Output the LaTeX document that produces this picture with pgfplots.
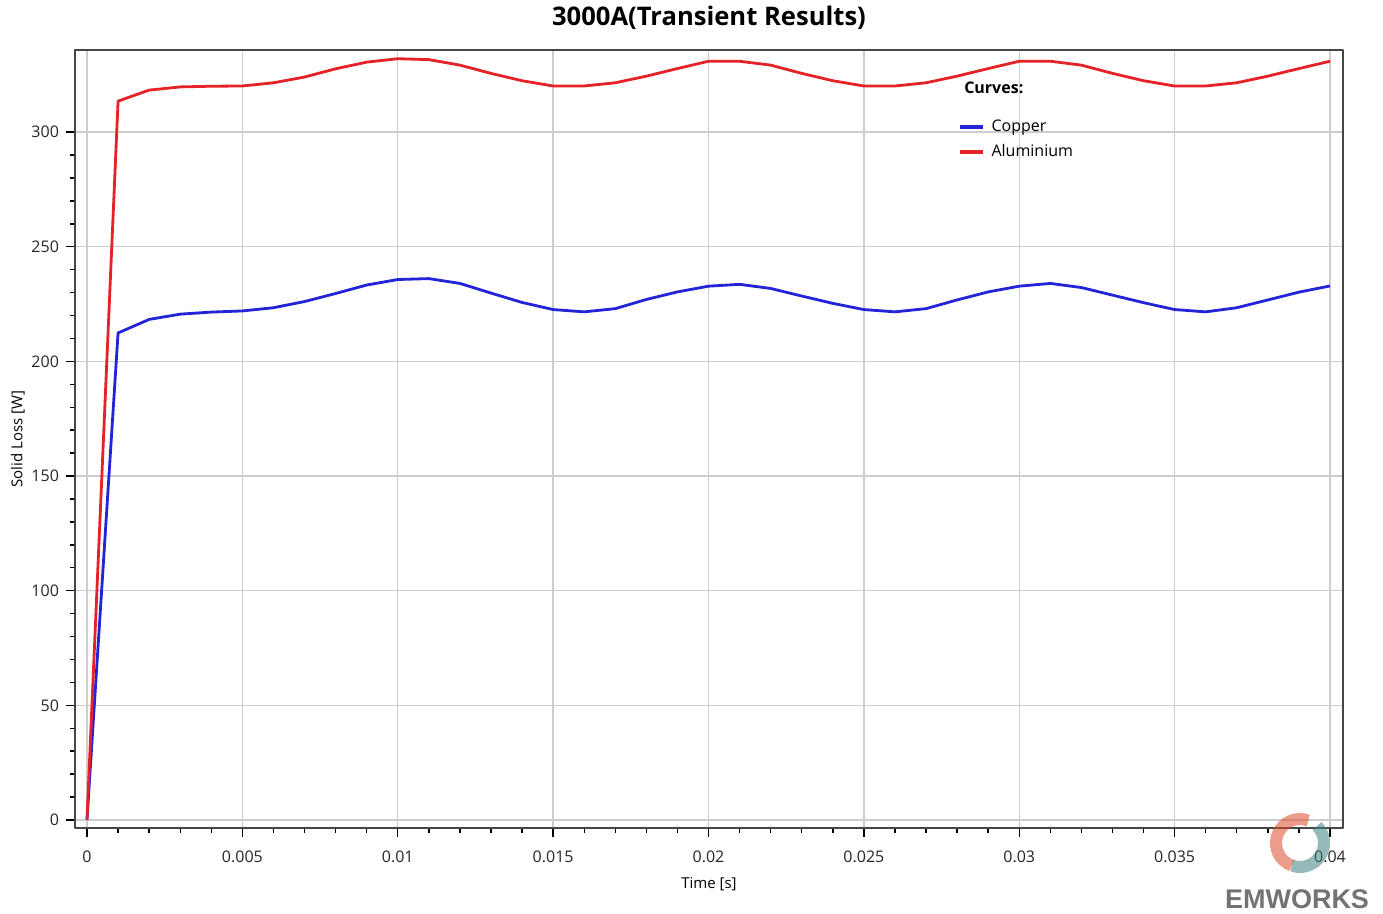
\documentclass[border=0pt]{standalone}
\usepackage{fontspec}
\setmainfont{Open Sans}
\newfontfamily\wmfont{Liberation Sans}
\usepackage{pgfplots}
\pgfplotsset{compat=1.18}
\definecolor{cublue}{RGB}{35,35,215}
\definecolor{alred}{RGB}{228,34,40}
\definecolor{gridgray}{RGB}{205,205,205}
\definecolor{framegray}{RGB}{70,70,70}
\begin{document}
\begin{tikzpicture}
\begin{axis}[
  scale only axis,
  width=634pt, height=389pt,
  xmin=-0.000386, xmax=0.040418,
  ymin=-3.5, ymax=335.8,
  xtick={0,0.005,0.01,0.015,0.02,0.025,0.03,0.035,0.04},
  xticklabels={0,0.005,0.01,0.015,0.02,0.025,0.03,0.035,0.04},
  scaled x ticks=false,
  ytick={0,50,100,150,200,250,300},
  yticklabels={0,50,100,150,200,250,300},
  minor x tick num=4,
  minor y tick num=4,
  tick pos=left,
  tick align=outside,
  major tick length=4.5pt,
  minor tick length=2.5pt,
  every tick/.style={black, line width=0.7pt},
  xmajorgrids, ymajorgrids,
  grid style={gridgray, line width=0.7pt},
  axis line style={framegray, line width=1pt},
  ticklabel style={font=\fontsize{8}{10}\selectfont, text=black!85},
  xticklabel style={yshift=-3.5pt},
  xlabel={Time [s]},
  ylabel={Solid Loss [W]},
  label style={font=\fontsize{7.5}{9}\selectfont},
  xlabel style={yshift=-0.5pt},
  ylabel style={yshift=-3.5pt},
  legend style={draw=none, fill=none, at={(0.696,0.916)}, anchor=north west,
    font=\fontsize{8}{10}\selectfont, row sep=1pt, inner sep=0pt},
  legend cell align=left,
  legend image code/.code={\path[draw=none] (0pt,0pt) -- (14pt,0pt);\draw[#1, line width=1.6pt] (0pt,0pt) -- (11.5pt,0pt);},
  line join=round,
]
\addplot[cublue, line width=1.4pt] coordinates {
(0,0) (0.001,212.4) (0.002,218.3) (0.003,220.6) (0.004,221.5) (0.005,222.0)
(0.006,223.4) (0.007,226.1) (0.008,229.6) (0.009,233.3) (0.010,235.7)
(0.011,236.1) (0.012,234.0) (0.013,229.8) (0.014,225.7) (0.015,222.6)
(0.016,221.6) (0.017,223.0) (0.018,227.0) (0.019,230.3) (0.020,232.8)
(0.021,233.6) (0.022,231.8) (0.023,228.5) (0.024,225.3) (0.025,222.6)
(0.026,221.6) (0.027,223.0) (0.028,226.8) (0.029,230.3) (0.030,232.8)
(0.031,234.0) (0.032,232.2) (0.033,228.9) (0.034,225.6) (0.035,222.6)
(0.036,221.6) (0.037,223.4) (0.038,226.8) (0.039,230.2) (0.040,232.9)
};
\addlegendentry{Copper}
\addplot[alred, line width=1.4pt] coordinates {
(0,0) (0.001,313.5) (0.002,318.3) (0.003,319.7) (0.004,320.0) (0.005,320.1)
(0.006,321.5) (0.007,324.0) (0.008,327.6) (0.009,330.5) (0.010,332.0)
(0.011,331.6) (0.012,329.2) (0.013,325.6) (0.014,322.4) (0.015,320.1)
(0.016,320.1) (0.017,321.5) (0.018,324.4) (0.019,327.7) (0.020,330.9)
(0.021,330.9) (0.022,329.2) (0.023,325.6) (0.024,322.4) (0.025,320.1)
(0.026,320.1) (0.027,321.5) (0.028,324.4) (0.029,327.7) (0.030,330.9)
(0.031,330.9) (0.032,329.2) (0.033,325.6) (0.034,322.4) (0.035,320.1)
(0.036,320.1) (0.037,321.5) (0.038,324.4) (0.039,327.7) (0.040,330.9)
};
\addlegendentry{Aluminium}
\node[anchor=west, font=\bfseries\fontsize{8}{10}\selectfont, inner sep=0pt]
  at (rel axis cs:0.701,0.951) {Curves:};
\end{axis}
\node[font=\bfseries\fontsize{12.8}{15}\selectfont] at ([yshift=16pt]current axis.north) {3000A(Transient Results)};
% watermark
\begin{scope}[shift={([xshift=-21.5pt,yshift=-7.5pt]current axis.south east)}]
  \draw[red!40!brown, opacity=0.55, line width=6pt] (70:12pt) arc (70:250:12pt);
  \draw[teal!50!gray, opacity=0.55, line width=6pt] (250:12pt) arc (-110:45:12pt);
\end{scope}
\node[font=\wmfont\bfseries\fontsize{13.5}{15}\selectfont, text=black!55] at ([xshift=-23pt,yshift=-35.5pt]current axis.south east) {EMWORKS};
\pgfresetboundingbox
\path ([xshift=-37.5pt,yshift=-42.5pt]current axis.south west) rectangle ([xshift=20pt,yshift=25pt]current axis.north east);
\end{tikzpicture}
\end{document}
